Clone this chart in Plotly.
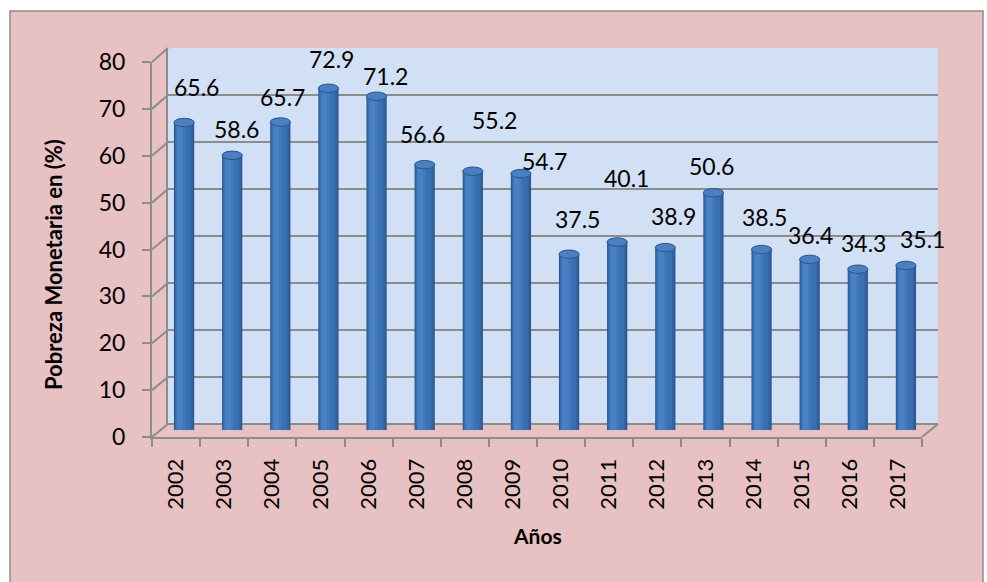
import plotly.graph_objects as go

# ---------------- data ----------------
YEARS = ["2002", "2003", "2004", "2005", "2006", "2007", "2008", "2009",
         "2010", "2011", "2012", "2013", "2014", "2015", "2016", "2017"]
POVERTY = [65.6, 58.6, 65.7, 72.9, 71.2, 56.6, 55.2, 54.7,
           37.5, 40.1, 38.9, 50.6, 38.5, 36.4, 34.3, 35.1]
Y_TICKS = [0, 10, 20, 30, 40, 50, 60, 70, 80]
Y_TITLE = "Pobreza Monetaria en (%)"
X_TITLE = "Años"

# label offsets (pixels) from the top of each cylinder (style only)
LABEL_DX = [12, 4, 2, 3, 9, -2, 22, 24, 8, 9, 8, -2, 3, 1, 6, 17]
LABEL_DY = [36, 26, 25, 29, 20, 31, 51, 13, 35, 64, 32, 27, 33, 24, 26, 26]

# ---------------- layout geometry (pixels) ----------------
W, H = 987, 582
FRONT = dict(x0=152, x1=922, yb=437, yt=62)
BACK = dict(x0=168, x1=938, yb=424, yt=48)
MID = dict(x0=160, x1=930, yb=430, yt=55)
YMAX = 80

GRAY = "#8c8c8c"
PINK = "#e8c1c2"
WALL = "#d2e0f5"
FONT = "Lato"


def px(x):
    return x / W


def py(y):
    return 1 - y / H


def xdom(g):
    return [px(g["x0"]), px(g["x1"])]


def ydom(g):
    return [py(g["yb"]), py(g["yt"])]


n = len(YEARS)
xr = [-0.5, n - 0.5]

fig = go.Figure()

# invisible trace to anchor the back-wall axes (gridlines)
fig.add_trace(go.Scatter(
    x=YEARS, y=POVERTY, xaxis="x", yaxis="y", mode="markers",
    marker=dict(opacity=0), hoverinfo="skip", showlegend=False,
))

# invisible trace to anchor the front axes
fig.add_trace(go.Scatter(
    x=YEARS, y=POVERTY, xaxis="x2", yaxis="y2", mode="markers",
    marker=dict(opacity=0), hoverinfo="skip", showlegend=False,
))

# cylinder bars drawn as layered bars (mid-depth axes)
BW = 0.42
layers = [
    (-BW / 2, BW, "#2a548d"),
    (-BW / 2 + 0.015, BW - 0.04, "#3263a2"),
    (-BW / 2 + 0.03, BW - 0.10, "#3970b3"),
    (-BW / 2 + 0.05, 0.19, "#4079bd"),
    (-BW / 2 + 0.07, 0.11, "#4881c5"),
]
for off, wd, col in layers:
    fig.add_trace(go.Bar(
        x=YEARS, y=POVERTY, xaxis="x3", yaxis="y3",
        offset=off, width=wd, marker=dict(color=col, line=dict(width=0)),
        hoverinfo="skip", showlegend=False,
    ))

shapes = []
# chart area background
shapes.append(dict(type="rect", xref="paper", yref="paper",
                   x0=px(10), x1=px(983), y0=py(595), y1=py(11),
                   fillcolor=PINK, line=dict(color=GRAY, width=1.5), layer="below"))
# back wall
shapes.append(dict(type="rect", xref="paper", yref="paper",
                   x0=px(BACK["x0"]), x1=px(BACK["x1"]), y0=py(BACK["yb"]), y1=py(BACK["yt"]),
                   fillcolor=WALL, line=dict(width=0), layer="below"))
# diagonal connectors from front ticks to back wall
for t in Y_TICKS:
    fy = FRONT["yb"] - (FRONT["yb"] - FRONT["yt"]) * t / YMAX
    by = BACK["yb"] - (BACK["yb"] - BACK["yt"]) * t / YMAX
    shapes.append(dict(type="line", xref="paper", yref="paper",
                       x0=px(FRONT["x0"]), y0=py(fy), x1=px(BACK["x0"]), y1=py(by),
                       line=dict(color=GRAY, width=2)))
# right floor edge
shapes.append(dict(type="line", xref="paper", yref="paper",
                   x0=px(FRONT["x1"]), y0=py(FRONT["yb"]), x1=px(BACK["x1"]), y1=py(BACK["yb"]),
                   line=dict(color=GRAY, width=2)))

# cylinder caps and bases (on the bar axes)
EH = 0.9
for k, v in enumerate(POVERTY):
    shapes.append(dict(type="circle", xref="x3", yref="y3",
                       x0=k - BW / 2, x1=k + BW / 2, y0=-EH, y1=EH,
                       fillcolor="#2a548d", line=dict(width=0), layer="below"))
    shapes.append(dict(type="circle", xref="x3", yref="y3",
                       x0=k - BW / 2, x1=k + BW / 2, y0=v - EH, y1=v + EH,
                       fillcolor="#4a80c2", line=dict(color="#2a548d", width=1)))

annotations = []
for k, (yr, v) in enumerate(zip(YEARS, POVERTY)):
    annotations.append(dict(x=k, y=v, xref="x3", yref="y3", text=f"{v:.1f}",
                            showarrow=False, xshift=LABEL_DX[k], yshift=LABEL_DY[k],
                            xanchor="center", yanchor="middle",
                            font=dict(family=FONT, size=23, color="black")))
annotations.append(dict(x=px(537), y=py(535), xref="paper", yref="paper", text=f"<b>{X_TITLE}</b>",
                        showarrow=False, xanchor="center", yanchor="middle",
                        font=dict(family=FONT, size=21, color="black")))
annotations.append(dict(x=px(54), y=py(265), xref="paper", yref="paper", text=f"<b>{Y_TITLE}</b>",
                        showarrow=False, textangle=-90, xanchor="center", yanchor="middle",
                        font=dict(family=FONT, size=22, color="black")))

fig.update_layout(
    width=W, height=H, autosize=False,
    margin=dict(l=0, r=0, t=0, b=0, pad=0),
    paper_bgcolor="white", plot_bgcolor="rgba(0,0,0,0)",
    barmode="overlay", showlegend=False,
    font=dict(family=FONT, color="black"),
    shapes=shapes, annotations=annotations,
    # back wall
    xaxis=dict(domain=xdom(BACK), range=xr, type="category", showgrid=False,
               showticklabels=False, ticks="", showline=False, zeroline=False,
               categoryorder="array", categoryarray=YEARS, fixedrange=True, automargin=False),
    yaxis=dict(domain=ydom(BACK), range=[0, YMAX], tickvals=Y_TICKS, showgrid=True,
               gridcolor=GRAY, gridwidth=2, zeroline=True, zerolinecolor=GRAY, zerolinewidth=2,
               showticklabels=False, ticks="", showline=True, linecolor=GRAY, linewidth=2,
               fixedrange=True, automargin=False),
    # front axes
    xaxis2=dict(domain=xdom(FRONT), range=xr, type="category", anchor="y2",
                categoryorder="array", categoryarray=YEARS,
                showgrid=False, zeroline=False, showline=True, linecolor=GRAY, linewidth=2,
                ticks="outside", tickson="boundaries", ticklen=8, tickwidth=2, tickcolor=GRAY,
                tickangle=-90, tickfont=dict(family=FONT, size=22, color="black"),
                ticklabelstandoff=11, fixedrange=True, automargin=False),
    yaxis2=dict(domain=ydom(FRONT), range=[0, YMAX], anchor="x2", tickvals=Y_TICKS,
                showgrid=False, zeroline=False, showline=True, linecolor=GRAY, linewidth=2,
                ticks="outside", ticklen=8, tickwidth=2, tickcolor=GRAY,
                tickfont=dict(family=FONT, size=23, color="black"),
                ticklabelstandoff=12, fixedrange=True, automargin=False),
    # mid-depth axes for the bars
    xaxis3=dict(domain=xdom(MID), range=xr, type="category", anchor="y3",
                categoryorder="array", categoryarray=YEARS, visible=False, fixedrange=True,
                automargin=False),
    yaxis3=dict(domain=ydom(MID), range=[0, YMAX], anchor="x3", visible=False, fixedrange=True,
                automargin=False),
)

fig.write_html("out.html", config={"displayModeBar": False},
               post_script="document.body.style.margin='0';")
